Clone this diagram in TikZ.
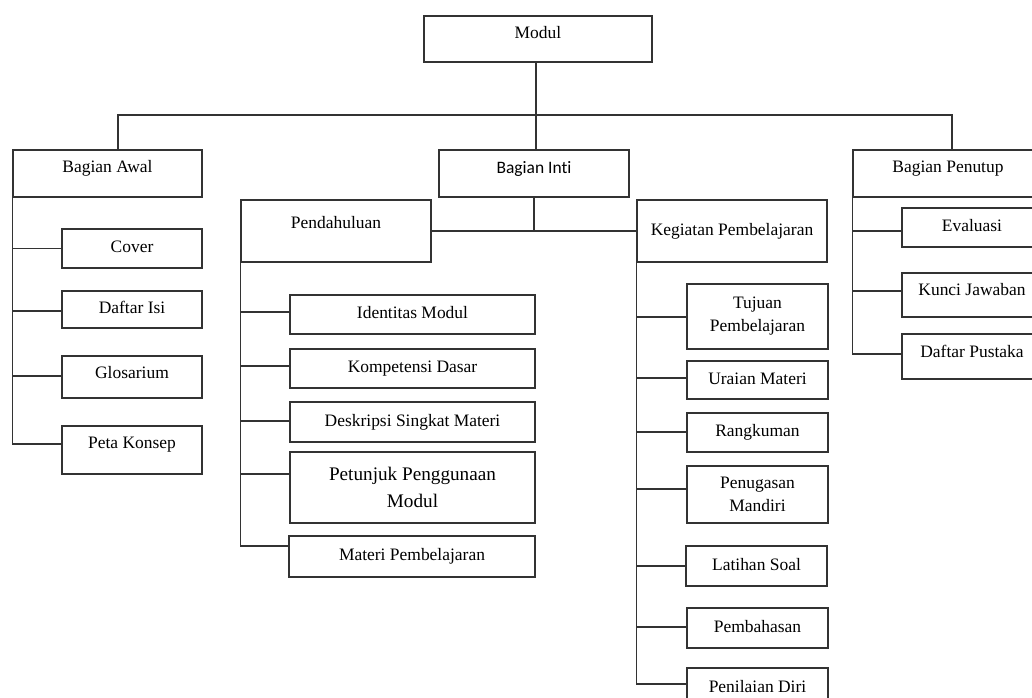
\documentclass[tikz,border=0pt]{standalone}
\usepackage{fontspec}
\setmainfont{Liberation Serif}
\newfontfamily\calibrifont[RawFeature={-liga;-clig}]{Carlito}
\tikzset{
  box/.style={draw=black!80, line width=1.05pt, inner sep=0pt, align=center, font=\fontsize{13.1}{17.3}\selectfont},
  sz/.style 2 args={minimum width=#1*0.75pt, minimum height=#2*0.75pt},
  txt/.style={text height=9.5pt, text depth=#1},
  txt/.default=3pt,
  link/.style={draw=black!80, line width=1.2pt},
}
\begin{document}
\begin{tikzpicture}[x=0.75pt,y=-0.75pt]
    \useasboundingbox (0,0) rectangle (1032,697);
    \clip (0,0) rectangle (1032,697);

    \node[box,sz={228}{46},txt=9.75pt] (modul) at (538,39) {Modul};
    \node[box,sz={189}{47},txt=10.5pt] (awal) at (107.5,173.5) {Bagian Awal};
    \node[box,sz={190}{47},txt=9pt,font=\calibrifont\fontsize{13.1}{17.3}\selectfont] (inti) at (534,173.5) {Bagian Inti};
    \node[box,sz={190}{47},txt=10.5pt] (penutup) at (948,173.5) {Bagian Penutup};
    \node[box,sz={190}{62},txt=12.75pt] (pendahuluan) at (336,231) {Pendahuluan};
    \node[box,sz={190}{62},txt] (kegiatan) at (732,231) {Kegiatan Pembelajaran};

    % bagian awal
    \node[box,sz={140}{39},txt] (cover) at (132,248.5) {Cover};
    \node[box,sz={140}{37},txt] (daftarisi) at (132,309.5) {Daftar Isi};
    \node[box,sz={140}{42},txt=6.75pt] (glosarium) at (132,377) {Glosarium};
    \node[box,sz={140}{48},txt=11.25pt] (peta) at (132,450) {Peta Konsep};

    % pendahuluan
    \node[box,sz={245}{39},txt] (identitas) at (412.5,314.5) {Identitas Modul};
    \node[box,sz={245}{39},txt] (kompetensi) at (412.5,368.5) {Kompetensi Dasar};
    \node[box,sz={245}{40},txt] (deskripsi) at (412.5,422) {Deskripsi Singkat Materi};
    \node[box,sz={245}{71},font=\fontsize{14.4}{20}\selectfont] (petunjuk) at (412.5,487.5) {Petunjuk Penggunaan\\Modul};
    \node[box,sz={246}{41},txt] (materi) at (412,556.5) {Materi Pembelajaran};

    % kegiatan pembelajaran
    \node[box,sz={141}{65}] (tujuan) at (757.5,316.5) {Tujuan\\Pembelajaran};
    \node[box,sz={141}{38},txt] (uraian) at (757.5,380) {Uraian Materi};
    \node[box,sz={141}{39},txt] (rangkuman) at (757.5,432.5) {Rangkuman};
    \node[box,sz={141}{57}] (penugasan) at (757.5,494.5) {Penugasan\\Mandiri};
    \node[box,sz={141}{40},txt] (latihan) at (756.5,566) {Latihan Soal};
    \node[box,sz={141}{40},txt] (pembahasan) at (757.5,628) {Pembahasan};
    \node[box,sz={141}{40},txt] (penilaian) at (757.5,688) {Penilaian Diri};

    % bagian penutup
    \node[box,sz={140}{39},txt] (evaluasi) at (972,227.5) {Evaluasi};
    \node[box,sz={140}{44},txt=8.25pt] (kunci) at (972,295) {Kunci Jawaban};
    \node[box,sz={140}{45},txt=8.25pt] (pustaka) at (972,356.5) {Daftar Pustaka};

    \coordinate (bar) at (536,115);
    \draw[link] (inti.north -| bar) -- (modul.south -| bar);
    \draw[link] ([xshift=7.9pt]awal.north) |- (bar) -| ([xshift=3pt]penutup.north);
    \draw[link] (pendahuluan.east) -- (kegiatan.west);
    \draw[link] (inti.south) -- (inti.south |- pendahuluan.east);

    \draw[link] (awal.south west) |- ([yshift=4.5pt]peta.west);
    \foreach \n/\s in {cover/0,daftarisi/-1.1,glosarium/0.8}
      \draw[link] ([yshift=\s pt]\n.west) -- ([yshift=\s pt]\n.west -| awal.south west);

    \draw[link] (pendahuluan.south west) |- ([yshift=7.9pt]materi.west);
    \foreach \n/\s in {identitas/1.9,kompetensi/1.9,deskripsi/0.8,petunjuk/10.1}
      \draw[link] ([yshift=\s pt]\n.west) -- ([yshift=\s pt]\n.west -| pendahuluan.south west);

    \draw[link] (kegiatan.south west) |- ([yshift=3pt]penilaian.west);
    \foreach \n/\s in {tujuan/-0.4,uraian/1.5,rangkuman/0.4,penugasan/4.1,latihan/0,pembahasan/0.8}
      \draw[link] ([yshift=\s pt]\n.west) -- ([yshift=\s pt]\n.west -| kegiatan.south west);

    \draw[link] (penutup.south west) |- ([yshift=1.9pt]pustaka.west);
    \foreach \n/\s in {evaluasi/-2.6,kunci/3}
      \draw[link] ([yshift=\s pt]\n.west) -- ([yshift=\s pt]\n.west -| penutup.south west);
\end{tikzpicture}
\end{document}
